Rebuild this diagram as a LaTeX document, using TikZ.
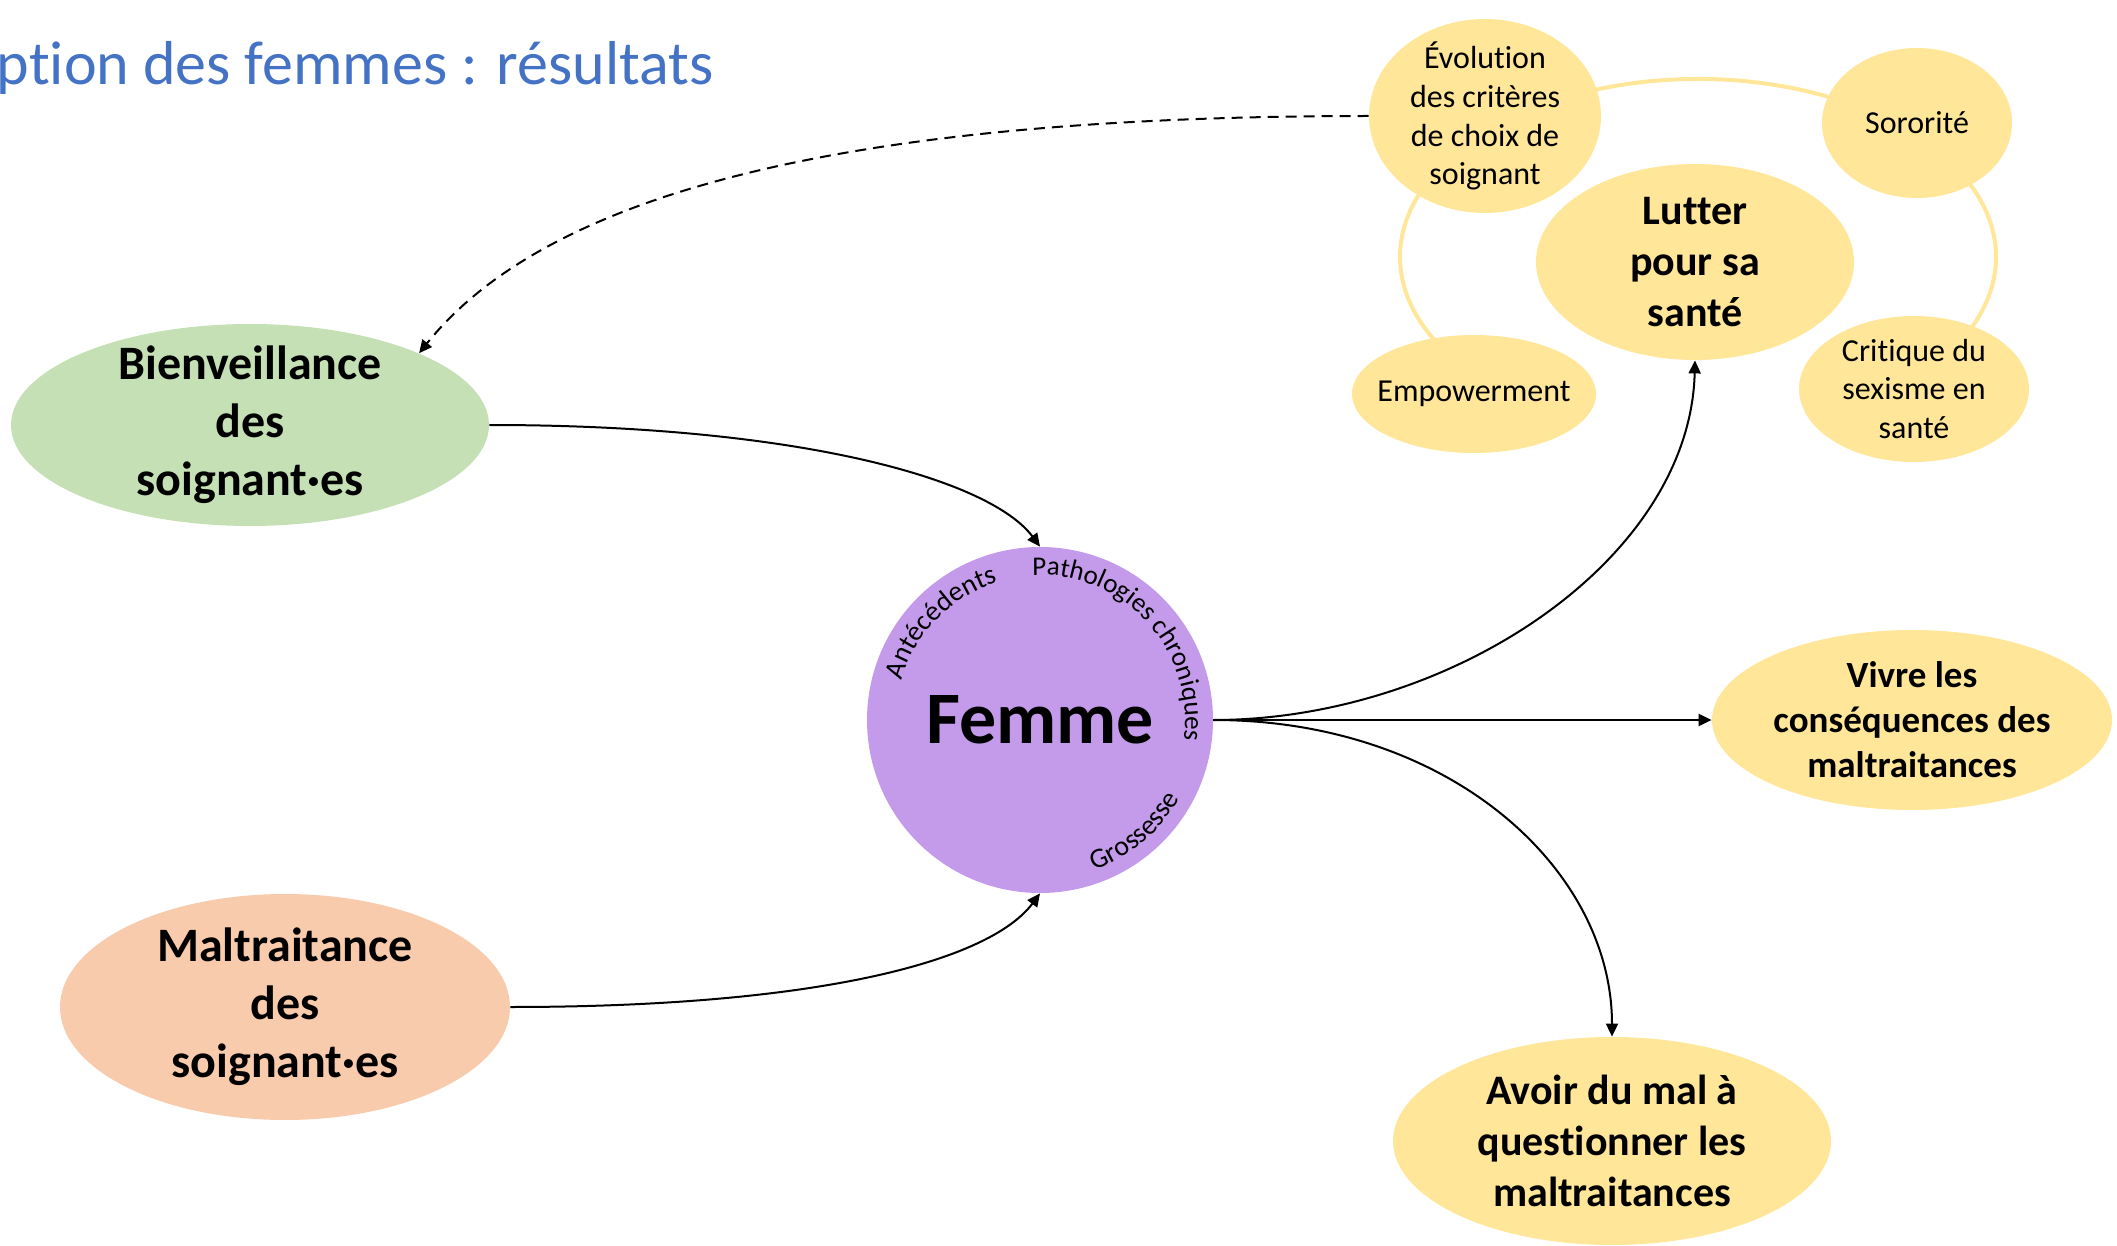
\documentclass[tikz,border=0pt]{standalone}
\usepackage{fontspec}
\setmainfont{Carlito}[Ligatures={NoCommon}]
\usetikzlibrary{arrows.meta,decorations.text,shapes.geometric}
\definecolor{greenc}{HTML}{C5E0B4}
\definecolor{orangec}{HTML}{F8CBAD}
\definecolor{yellowc}{HTML}{FFE699}
\definecolor{purplec}{HTML}{C39BEA}
\definecolor{titlec}{HTML}{4472C4}
\definecolor{ringc}{HTML}{FFE699}
\begin{document}
\begin{tikzpicture}[x=0.5pt,y=-0.5pt,
  blob/.style={ellipse, inner sep=0pt, draw=none},
  lbl/.style={align=center, inner sep=0pt},
  bigt/.style={lbl, font=\bfseries\fontsize{24}{29}\selectfont},
  midt/.style={lbl, font=\bfseries\fontsize{21}{25.5}\selectfont},
  vivt/.style={lbl, font=\bfseries\fontsize{18.5}{22.5}\selectfont},
  smlt/.style={lbl, font=\fontsize{16}{19.4}\selectfont},
  arr/.style={line width=1pt, -{Triangle[length=6.5pt,width=6pt]}},
  ringline/.style={draw=ringc, line width=2pt},
]
\useasboundingbox (0,0) rectangle (2117,1246);

% title
\node[anchor=base east, text=titlec, inner sep=0pt, font=\fontsize{31}{37}\selectfont] (title) at (714,85) {ption des femmes : résultats};

% ring of the cycle
\draw[ringline] (1491,385) arc[start angle=134, end angle=406, x radius=298, y radius=178];

% nodes
\node[circle, fill=purplec, minimum size=173pt, inner sep=0pt] (femme) at (1040,720) {};
\node[lbl, font=\bfseries\fontsize{37}{44}\selectfont] (femmeT) at (femme.center) {Femme};

\node[blob, fill=greenc, minimum width=239pt, minimum height=101pt] (bien) at (250,425) {};
\node[bigt] (bienT) at (bien.center) {Bienveillance\\des\\soignant·es};

\node[blob, fill=orangec, minimum width=225pt, minimum height=113pt] (malt) at (285,1007) {};
\node[bigt] (maltT) at (malt.center) {Maltraitance\\des\\soignant·es};

\node[blob, fill=yellowc, minimum width=159pt, minimum height=98pt] (lutter) at (1695,262) {};
\node[midt] (lutterT) at (lutter.center) {Lutter\\pour sa\\santé};

\node[blob, fill=yellowc, minimum width=200pt, minimum height=90pt] (vivre) at (1912,720) {};
\node[vivt] (vivreT) at (vivre.center) {Vivre les\\conséquences des\\maltraitances};

\node[blob, fill=yellowc, minimum width=219pt, minimum height=104pt] (avoir) at (1612,1141) {};
\node[midt] (avoirT) at (avoir.center) {Avoir du mal à\\questionner les\\maltraitances};

\node[blob, fill=yellowc, minimum width=116pt, minimum height=97pt] (evol) at (1485,116) {};
\node[smlt] (evolT) at (evol.center) {Évolution\\des critères\\de choix de\\soignant};

\node[blob, fill=yellowc, minimum width=95pt, minimum height=75pt] (soro) at (1917,123) {};
\node[smlt] (soroT) at (soro.center) {Sororité};

\node[blob, fill=yellowc, minimum width=122pt, minimum height=59pt] (empo) at (1474,394) {};
\node[smlt] (empoT) at (empo.center) {Empowerment};

\node[blob, fill=yellowc, minimum width=115pt, minimum height=73pt] (crit) at (1914,389) {};
\node[smlt] (critT) at (crit.center) {Critique du\\sexisme en\\santé};

% curved texts in the circle
\path[decorate, decoration={text along path, text={|\fontsize{14}{16}\selectfont|Antécédents}}]
  ([shift={(164:72pt)}]femme.center) arc[start angle=164, end angle=95, radius=72pt];
\path[decorate, decoration={text along path, text={|\fontsize{13.5}{15}\selectfont|Pathologies chroniques}}]
  ([shift={(93:72.5pt)}]femme.center) arc[start angle=93, end angle=-15, radius=72.5pt];
\path[decorate, decoration={text along path, text={|\fontsize{14}{16}\selectfont|Grossesse}}]
  ([shift={(-70:80pt)}]femme.center) arc[start angle=-70, end angle=-5, radius=80pt];

% connectors
\draw[arr, dash pattern=on 5.5pt off 3.5pt] (evol.west) .. controls +(-469,0) and +(141,-176) .. (bien.23);
\draw[arr] (bien.east) .. controls +(311,0) and +(-50,-67) .. (femme.north);
\draw[arr] (malt.east) .. controls +(311,0) and +(-50,67) .. (femme.south);
\draw[arr] (femme.east) .. controls +(237,0) and +(-5,200) .. (lutter.south);
\draw[arr] (femme.east) -- (vivre.west);
\draw[arr] (femme.east) .. controls +(237,0) and +(0,-167) .. (avoir.north);
\end{tikzpicture}
\end{document}
